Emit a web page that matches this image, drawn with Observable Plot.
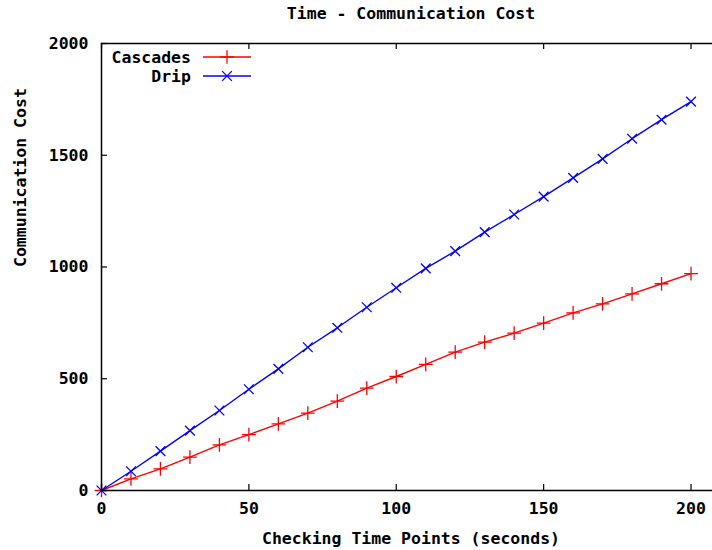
<!DOCTYPE html>
<html><head><meta charset="utf-8">
<script src="https://cdn.jsdelivr.net/npm/d3@7"></script>
<script src="https://cdn.jsdelivr.net/npm/@observablehq/plot@0.6"></script>
<style>
html,body{margin:0;padding:0;background:#fff;overflow:hidden}
#wrap{position:relative;width:712px;height:550px}
#legend{position:absolute;left:101px;top:43px}
</style></head><body><div id="wrap"></div>
<script>
const times = [0,10,20,30,40,50,60,70,80,90,100,110,120,130,140,150,160,170,180,190,200];
const cascades = [0,52,97,149,204,250,298,346,400,458,510,564,619,664,704,749,795,835,880,925,970];
const drip = [0,86,176,268,358,453,544,641,728,820,907,994,1071,1156,1235,1315,1399,1484,1574,1659,1740];
const seriesNames = ["Cascades","Drip"];
const seriesColors = ["#ff0000","#0000ff"];
const seriesSymbols = ["plus","times"];
const xTicks = [0,50,100,150,200];
const yTicks = [0,500,1000,1500,2000];
const xDomain = [0, 210];
const yDomain = [0, 2000];
const titleText = "Time - Communication Cost";
const xLabel = "Checking Time Points (seconds)";
const yLabel = "Communication Cost";

const rows = [];
[cascades, drip].forEach((vals, s) => vals.forEach((v, i) => rows.push({series: seriesNames[s], t: times[i], cost: v})));

const FONT = "'DejaVu Sans Mono', monospace";
const FS = 16.5;
const W = 712, H = 550, mL = 101, mR = -8, mT = 43, mB = 60;
const innerH = H - mT - mB, innerW = W - mL - mR;

const chart = Plot.plot({
  width: W, height: H,
  marginLeft: mL, marginRight: mR, marginTop: mT, marginBottom: mB,
  style: {fontFamily: FONT, fontSize: FS + "px", fontWeight: "bold", background: "#fff", color: "#000", overflow: "hidden"},
  x: {domain: xDomain},
  y: {domain: yDomain},
  color: {domain: seriesNames, range: seriesColors},
  symbol: {domain: seriesNames, range: seriesSymbols},
  marks: [
    Plot.line(rows, {x: "t", y: "cost", z: "series", stroke: "series", strokeWidth: 1.4}),
    Plot.dot(rows, {x: "t", y: "cost", stroke: "series", symbol: "series", r: 4.5, strokeWidth: 1.3}),
    // inward ticks (gnuplot style, mirrored)
    Plot.ruleX(xTicks, {x: d => d, insetTop: innerH - 6, stroke: "#000", strokeWidth: 1.2}),
    Plot.ruleX(xTicks, {x: d => d, insetBottom: innerH - 6, stroke: "#000", strokeWidth: 1.2}),
    Plot.ruleY(yTicks, {y: d => d, insetRight: innerW - 6, stroke: "#000", strokeWidth: 1.2}),
    // border: left, bottom, top (right edge lies outside the picture)
    Plot.ruleX([xDomain[0]], {x: d => d, stroke: "#000", strokeWidth: 1.5}),
    Plot.ruleY(yDomain, {y: d => d, stroke: "#000", strokeWidth: 1.5}),
    Plot.axisX({ticks: xTicks, tickSize: 0, tickPadding: 12, label: null, tickFormat: d => String(d), fontSize: FS}),
    Plot.axisY({ticks: yTicks, tickSize: 0, tickPadding: 13, label: null, tickFormat: d => String(d), fontSize: FS}),
    Plot.text([titleText], {text: d => d, frameAnchor: "top", dy: -36, fontSize: FS, fontWeight: "bold"}),
    Plot.text([xLabel], {text: d => d, frameAnchor: "bottom", dy: 53, fontSize: FS, fontWeight: "bold"}),
    Plot.text([yLabel], {text: d => d, frameAnchor: "left", dx: -81, rotate: -90, fontSize: FS, fontWeight: "bold"})
  ]
});
const wrap = document.getElementById("wrap");
wrap.appendChild(chart);

// legend overlay (top-left inside the frame)
const lg = d3.select(wrap).append("svg").attr("id", "legend").attr("width", 200).attr("height", 60)
  .style("font-family", FONT).style("font-size", FS + "px").style("font-weight", "bold");
seriesNames.forEach((name, i) => {
  const y = 14 + i * 19;
  lg.append("text").attr("x", 90).attr("y", y).attr("dy", "0.35em").attr("text-anchor", "end").text(name);
  lg.append("line").attr("x1", 102).attr("x2", 150).attr("y1", y).attr("y2", y)
    .attr("stroke", seriesColors[i]).attr("stroke-width", 1.4);
  const sym = d3.symbol(seriesSymbols[i] === "plus" ? d3.symbolPlus : d3.symbolTimes, 4.5 * 4.5 * Math.PI)();
  lg.append("path").attr("d", sym).attr("transform", `translate(126,${y})`)
    .attr("fill", "none").attr("stroke", seriesColors[i]).attr("stroke-width", 1.3);
});
</script></body></html>
